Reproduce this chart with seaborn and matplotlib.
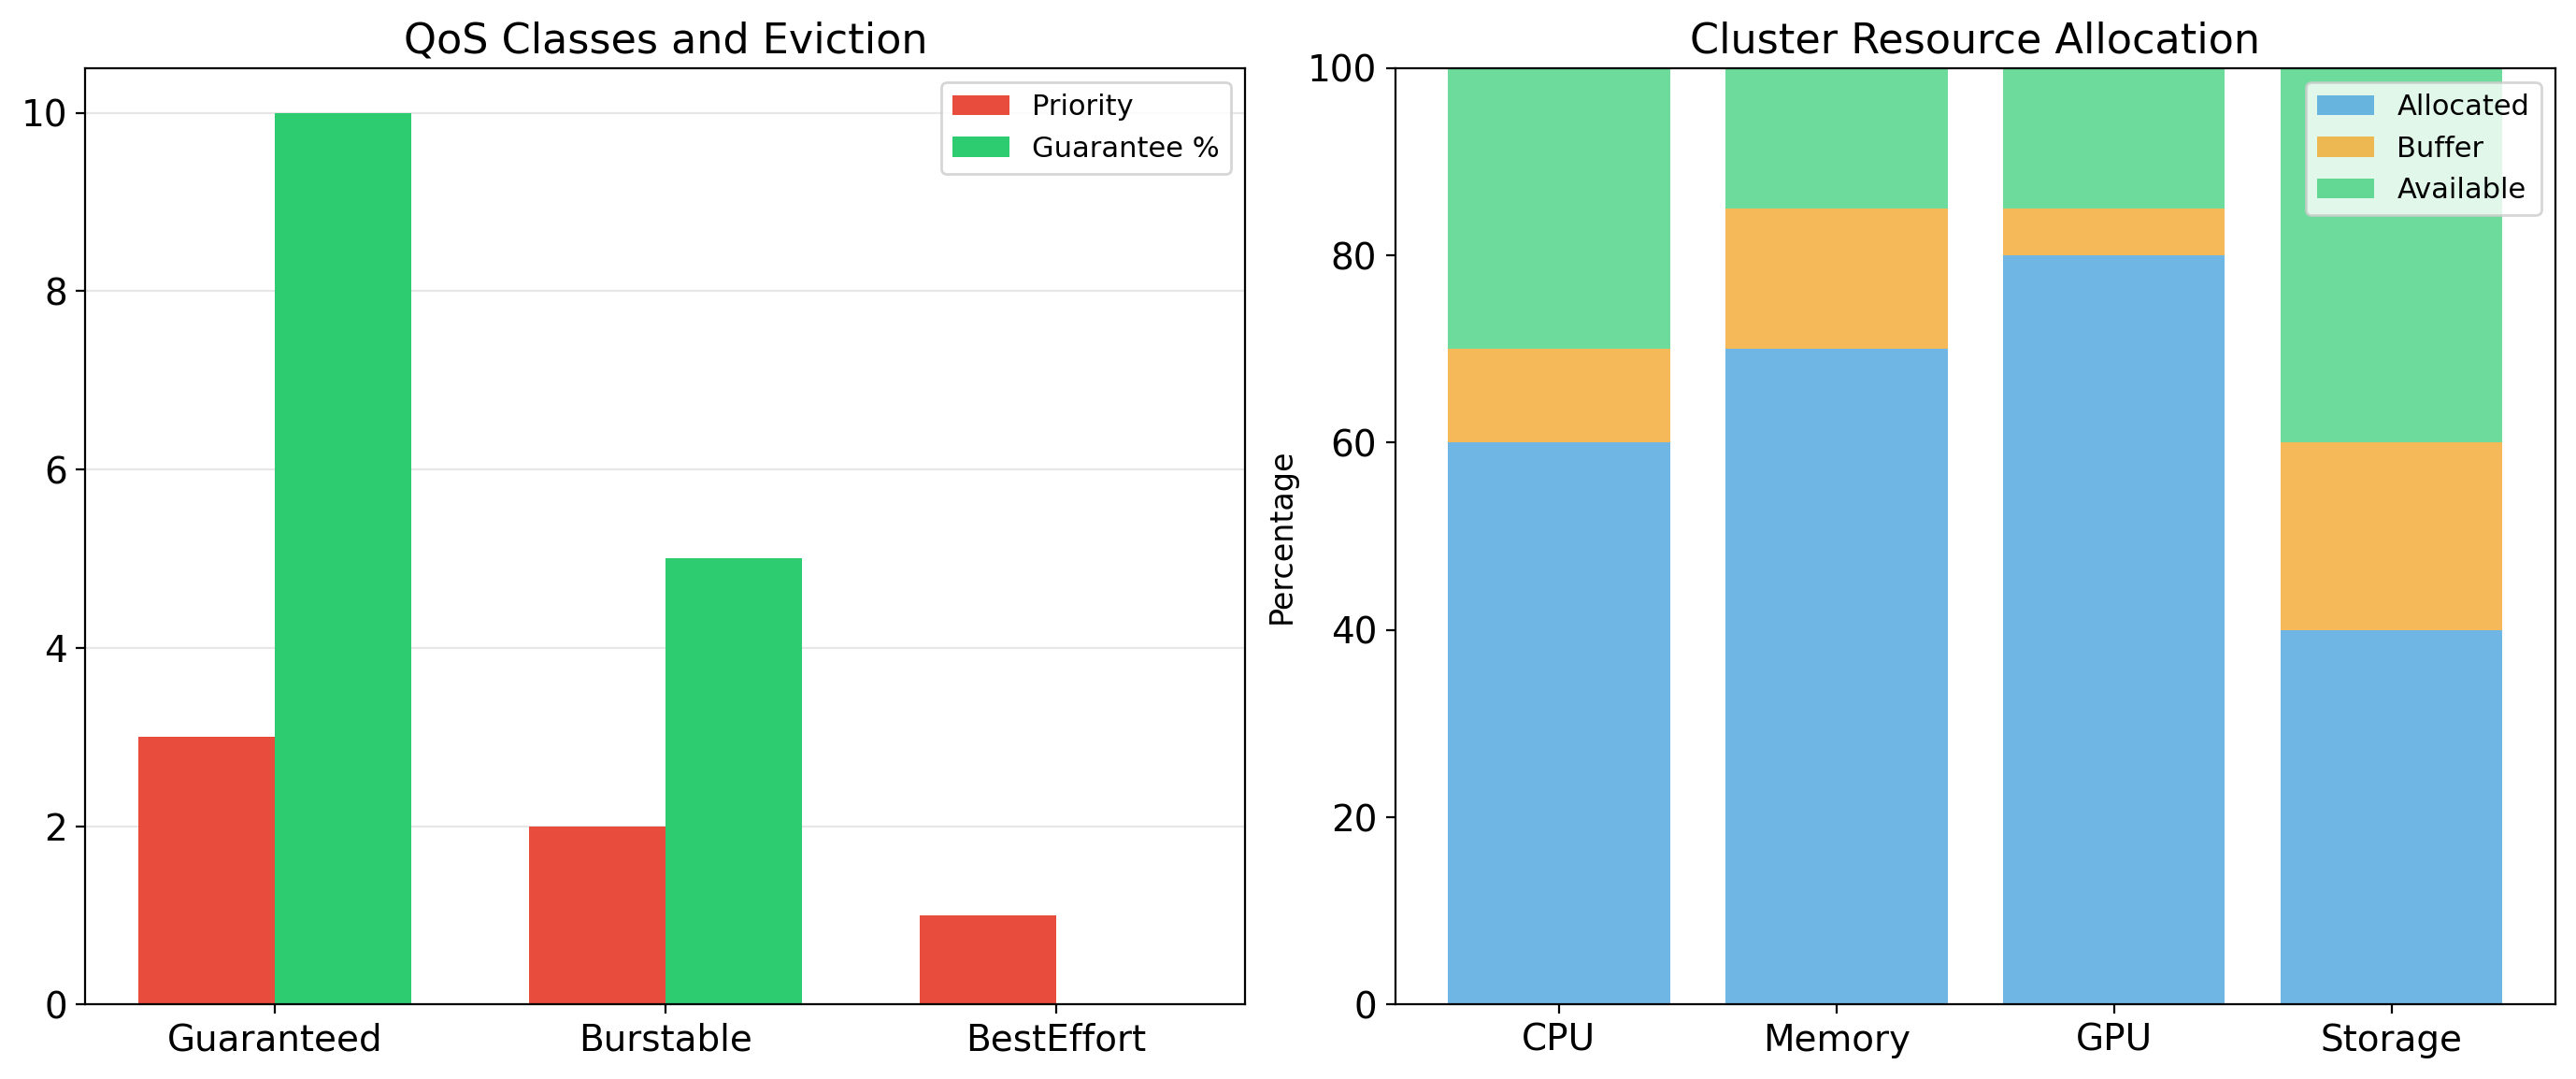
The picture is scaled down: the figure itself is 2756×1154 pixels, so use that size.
import pandas as pd
import matplotlib.pyplot as plt
import seaborn as sns

# --- DATA ---
qos_classes = ['Guaranteed', 'Burstable', 'BestEffort']
priority = [3, 2, 1]
guarantee = [10, 5, 0]

resources = ['CPU', 'Memory', 'GPU', 'Storage']
allocated = [60, 70, 80, 40]
buffer = [10, 15, 5, 20]
available = [30, 15, 15, 40]

plt.rcParams['font.family'] = ['DejaVu Sans']

fig, (ax1, ax2) = plt.subplots(1, 2, figsize=(13.78, 5.77), dpi=200)

# --- Left: QoS grouped bars ---
qos_df = pd.DataFrame({
    'QoS': qos_classes * 2,
    'Value': priority + guarantee,
    'Metric': ['Priority'] * 3 + ['Guarantee %'] * 3,
})
sns.barplot(data=qos_df, x='QoS', y='Value', hue='Metric', ax=ax1,
            palette=['#e74c3c', '#2ecc71'], saturation=1, width=0.7,
            linewidth=0, errorbar=None)
ax1.set_xlim(-0.485, 2.485)
ax1.set_title('QoS Classes and Eviction', fontsize=16)
ax1.set_xlabel('')
ax1.set_ylabel('')
ax1.tick_params(labelsize=14)
ax1.grid(axis='y', alpha=0.3)
ax1.set_axisbelow(True)
ax1.legend(loc='upper right', fontsize=11)

# --- Right: stacked resource allocation ---
parts = {'Allocated': allocated, 'Buffer': buffer, 'Available': available}
colors = {'Allocated': '#3498db', 'Buffer': '#f39c12', 'Available': '#2ecc71'}
bottom = [0] * len(resources)
for name, vals in parts.items():
    sns.barplot(x=resources, y=vals, ax=ax2, color=colors[name], alpha=0.7,
                saturation=1, width=0.8, linewidth=0, bottom=bottom,
                label=name, errorbar=None)
    bottom = [b + v for b, v in zip(bottom, vals)]
ax2.set_xlim(-0.59, 3.59)
ax2.set_ylim(0, 100)
ax2.set_title('Cluster Resource Allocation', fontsize=16)
ax2.set_ylabel('Percentage', fontsize=12)
ax2.tick_params(labelsize=14)
ax2.legend(loc='upper right', fontsize=11)

plt.tight_layout(pad=0.8)
plt.savefig('out.png', dpi=200)
